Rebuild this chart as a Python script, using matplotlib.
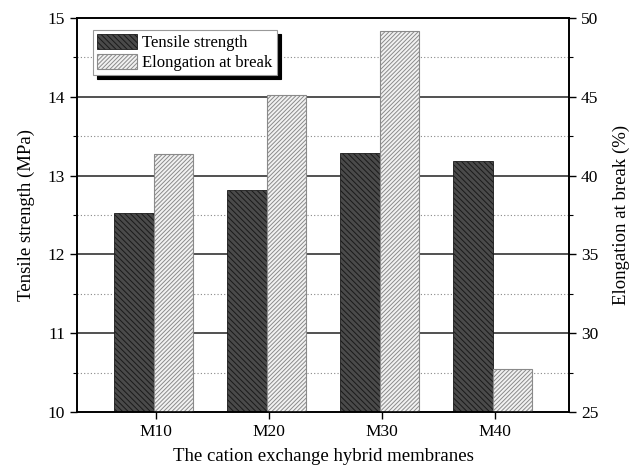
import numpy as np
import matplotlib
matplotlib.use("Agg")
import matplotlib.pyplot as plt
from matplotlib.ticker import MultipleLocator

plt.rcParams["font.family"] = ["Liberation Serif", "DejaVu Serif"]
plt.rcParams["hatch.linewidth"] = 0.7

# data
membranes = ["M10", "M20", "M30", "M40"]
tensile = [12.53, 12.82, 13.29, 13.19]        # MPa, left axis
elongation = [41.4, 45.1, 49.2, 27.7]         # %, right axis

x = np.arange(1, len(membranes) + 1)
w = 0.35
shift = -0.02

fig = plt.figure(figsize=(6.31, 4.69), dpi=100)
ax = fig.add_axes([0.122, 0.1215, 0.780, 0.840])
ax2 = ax.twinx()

# grid lines (drawn on the first axes, behind the bars)
for v in np.arange(10.5, 15, 1.0):
    ax.axhline(v, color="#888888", lw=0.8, ls=(0, (1, 2)), zorder=0)
for v in range(11, 15):
    ax.axhline(v, color="#333333", lw=1.2, zorder=0)

b1 = ax.bar(x - w + shift, tensile, width=w, align="edge",
            facecolor="#4a4a4a", edgecolor="#1a1a1a", hatch="\\\\\\\\\\\\",
            linewidth=0.6, zorder=2, label="Tensile strength")
b2 = ax2.bar(x + shift, elongation, width=w, align="edge",
             facecolor="#f2f2f2", edgecolor="#8a8a8a", hatch="////////",
             linewidth=0.8, zorder=2, label="Elongation at break")

ax.set_ylim(10, 15)
ax2.set_ylim(25, 50)
ax.set_xlim(0.30, 4.655)
ax.set_xticks(x)
ax.set_xticklabels(membranes)

ax.yaxis.set_major_locator(MultipleLocator(1))
ax.yaxis.set_minor_locator(MultipleLocator(0.5))
ax2.yaxis.set_major_locator(MultipleLocator(5))
ax2.yaxis.set_minor_locator(MultipleLocator(2.5))

for a in (ax, ax2):
    a.tick_params(axis="both", which="major", direction="out", length=5,
                  width=1, labelsize=12.5)
    a.tick_params(axis="y", which="minor", direction="out", length=3, width=0.8)
    for s in a.spines.values():
        s.set_linewidth(1.2)

ax.set_ylabel("Tensile strength (MPa)", fontsize=13.5, labelpad=9)
ax2.set_ylabel("Elongation at break (%)", fontsize=13.5, labelpad=10)
ax.set_xlabel("The cation exchange hybrid membranes", fontsize=13.5, labelpad=6)

# grid axes below the twin axes so bars of both sit on top of the grid
ax.set_zorder(ax2.get_zorder() - 1)
ax2.patch.set_visible(False)

leg = ax2.legend(handles=[b1, b2], loc="upper left",
                 bbox_to_anchor=(0.033, 0.97), fontsize=12, fancybox=False,
                 shadow={"color": "black", "alpha": 1.0, "ox": 3, "oy": -3},
                 framealpha=1, edgecolor="#999999", handlelength=2.4,
                 handleheight=1.0, borderpad=0.25, labelspacing=0.15,
                 handletextpad=0.3, borderaxespad=0)
leg.get_frame().set_linewidth(0.8)

fig.savefig("out.png", dpi=100)
